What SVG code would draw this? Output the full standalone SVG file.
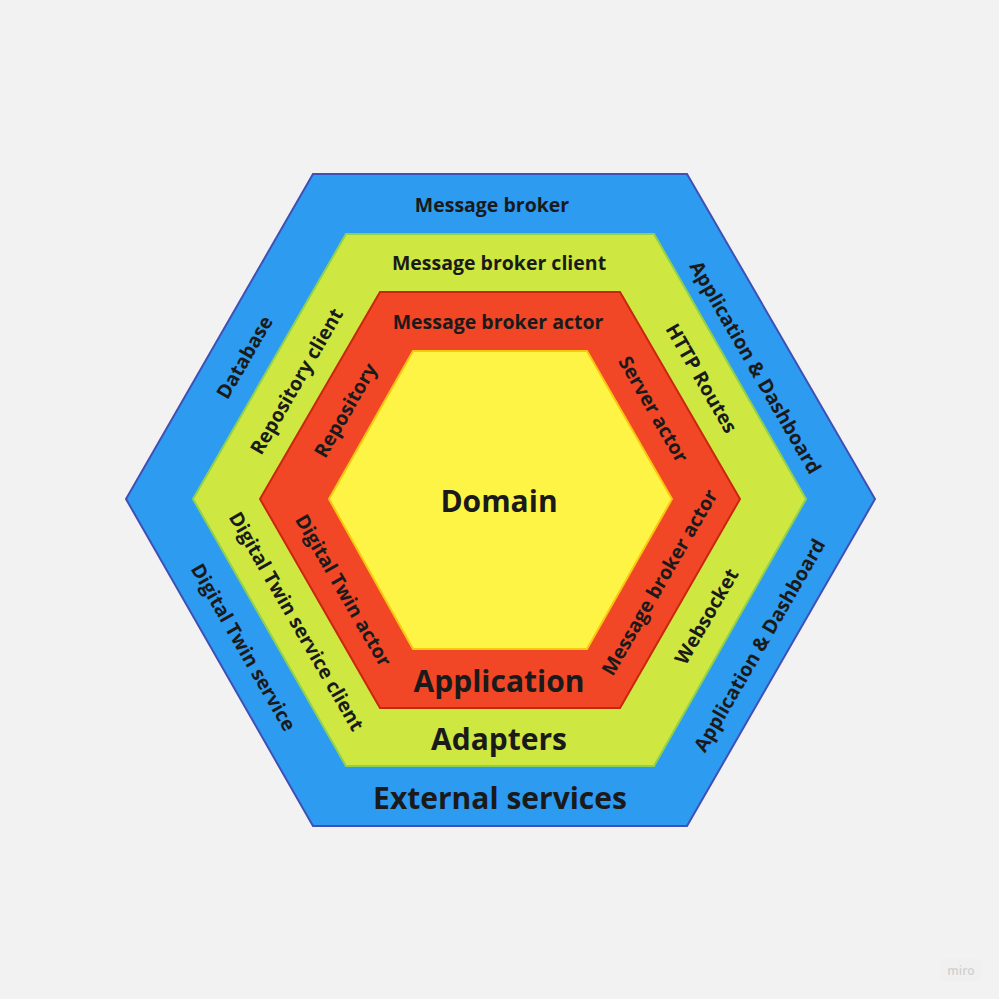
<svg xmlns="http://www.w3.org/2000/svg" width="999" height="999" viewBox="0 0 999 999">
<style>
text{font-family:"Open Sans","Noto Sans","Liberation Sans",sans-serif;font-weight:700;fill:#1a1a1a;text-anchor:middle;dominant-baseline:central}
.s{font-size:19.5px}
.l{font-size:30px}
</style>
<rect width="999" height="999" fill="#f2f2f2"/>
<g id="external">
<polygon points="313,174 687,174 875,499 687,826 313,826 126,499" fill="#2d9bf0" stroke="#4050b5" stroke-width="2"/>
<text class="s" x="492" y="204">Message broker</text>
<text class="s" transform="translate(244,357) rotate(-60)">Database</text>
<text class="s" transform="translate(756,367) rotate(60)">Application &amp; Dashboard</text>
<text class="s" transform="translate(244,647) rotate(60)">Digital Twin service</text>
<text class="s" transform="translate(759,645) rotate(-60)">Application &amp; Dashboard</text>
<text class="l" x="500" y="797">External services</text>
</g>
<g id="adapters">
<polygon points="346,234 654,234 806,499 654,766 346,766 193,499" fill="#cee741" stroke="#8fd14f" stroke-width="2"/>
<text class="s" x="499" y="262">Message broker client</text>
<text class="s" transform="translate(296,381) rotate(-60)">Repository client</text>
<text class="s" transform="translate(702,378) rotate(60)">HTTP Routes</text>
<text class="s" transform="translate(297,621) rotate(60)">Digital Twin service client</text>
<text class="s" transform="translate(706,616) rotate(-60)">Websocket</text>
<text class="l" x="499" y="738">Adapters</text>
</g>
<g id="application">
<polygon points="380,292 620,292 740,499 620,708 380,708 260,499" fill="#f24726" stroke="#c9260c" stroke-width="2"/>
<text class="s" x="498" y="321">Message broker actor</text>
<text class="s" transform="translate(345,410) rotate(-60)">Repository</text>
<text class="s" transform="translate(654,409) rotate(60)">Server actor</text>
<text class="s" transform="translate(344,590) rotate(60)">Digital Twin actor</text>
<text class="s" transform="translate(659,582) rotate(-60)">Message broker actor</text>
<text class="l" x="499" y="680">Application</text>
</g>
<g id="domain">
<polygon points="413,351 587,351 672,499 587,649 413,649 329,499" fill="#fef445" stroke="#fac710" stroke-width="2"/>
<text class="l" x="499" y="500">Domain</text>
</g>
<g id="watermark">
<rect x="940" y="959" width="42" height="22" rx="4" fill="#f0f0f0"/>
<text x="961" y="970" style="font-size:12px;fill:#d0d0d0;font-weight:600">miro</text>
</g>
</svg>
